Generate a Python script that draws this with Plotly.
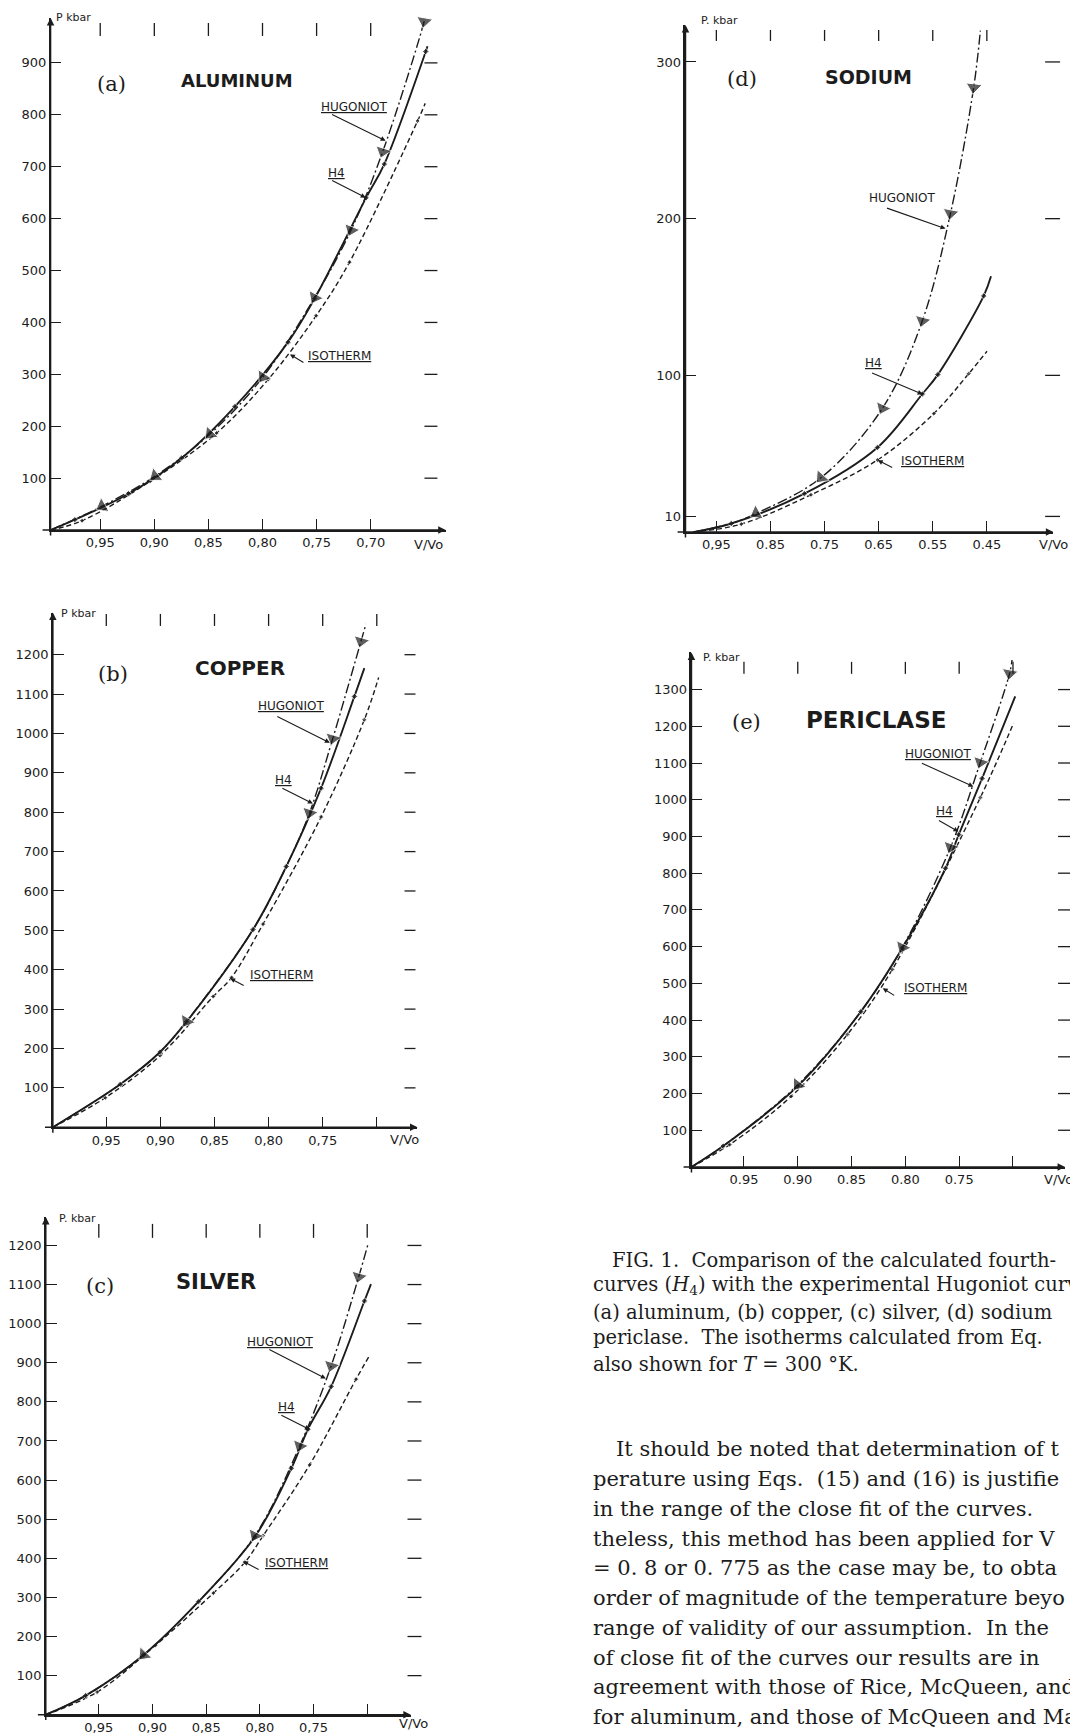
import plotly.graph_objects as go

# The page body has an 8 px margin, so the figure is drawn 8 px in from the top-left corner.
PAGE_W, PAGE_H, OFF = 1078, 1735, 8
FW, FH = PAGE_W - OFF, PAGE_H - OFF
INK = "#1c1c1c"

# ---------------- data (x = V/V0, y = P in kbar) ----------------
# (a) aluminum
AL_HUG_V = [0.9959, 0.9483, 0.8992, 0.8485, 0.7995, 0.7518, 0.7181, 0.6889, 0.6506, 0.6495]
AL_HUG_P = [0, 46, 104, 185, 295, 448, 578, 729, 980, 993]
AL_TRI_V = [0.9483, 0.8992, 0.8485, 0.7995, 0.7518, 0.7181, 0.6889, 0.6506]
AL_TRI_P = [46, 104, 185, 295, 448, 578, 729, 980]
AL_H4_V = [0.9959, 0.9735, 0.9238, 0.8747, 0.8255, 0.7764, 0.7518, 0.7043, 0.6874, 0.6491, 0.6475]
AL_H4_P = [0, 20, 70, 139, 238, 362, 446, 640, 705, 922, 932]
AL_ISO_V = [0.9959, 0.9668, 0.9038, 0.8424, 0.7948, 0.7504, 0.7196, 0.6567, 0.6496]
AL_ISO_P = [0, 18, 94, 187, 290, 413, 516, 788, 822]
AL_XTICKS = [0.95, 0.90, 0.85, 0.80, 0.75, 0.70]
AL_XLABELS = ["0,95", "0,90", "0,85", "0,80", "0,75", "0,70"]
AL_YTICKS = [100, 200, 300, 400, 500, 600, 700, 800, 900]

# (b) copper
CU_HUG_V = [0.9994, 0.9371, 0.9003, 0.8758, 0.8144, 0.7837, 0.7622, 0.7407, 0.7146, 0.7100]
CU_HUG_P = [0, 109, 191, 269, 502, 662, 798, 987, 1234, 1278]
CU_TRI_V = [0.8758, 0.7622, 0.7407, 0.7146]
CU_TRI_P = [269, 798, 987, 1234]
CU_H4_V = [0.9994, 0.9371, 0.9003, 0.8758, 0.8144, 0.7837, 0.7515, 0.7207, 0.7115]
CU_H4_P = [0, 109, 191, 268, 502, 662, 861, 1094, 1166]
CU_ISO_V = [0.9994, 0.9509, 0.9003, 0.8512, 0.8343, 0.8051, 0.7515, 0.7115, 0.6983]
CU_ISO_P = [0, 75, 182, 332, 380, 516, 788, 1035, 1142]
CU_XTICKS = [0.95, 0.90, 0.85, 0.80, 0.75, 0.70]
CU_XLABELS = ["0,95", "0,90", "0,85", "0,80", "0,75", ""]
CU_YTICKS = [100, 200, 300, 400, 500, 600, 700, 800, 900, 1000, 1100, 1200]

# (c) silver
AG_HUG_V = [0.9994, 0.9623, 0.9083, 0.8572, 0.8046, 0.7629, 0.7336, 0.7079, 0.6995]
AG_HUG_P = [0, 49, 153, 289, 458, 687, 892, 1120, 1201]
AG_TRI_V = [0.9083, 0.8046, 0.7629, 0.7336, 0.7079]
AG_TRI_P = [153, 458, 687, 892, 1120]
AG_H4_V = [0.9994, 0.9623, 0.9083, 0.8572, 0.8046, 0.7707, 0.7552, 0.7336, 0.7026, 0.6965]
AG_H4_P = [0, 49, 153, 289, 455, 630, 730, 839, 1058, 1101]
AG_ISO_V = [0.9994, 0.9516, 0.8974, 0.8433, 0.8139, 0.7969, 0.7536, 0.7104, 0.6986]
AG_ISO_P = [0, 58, 177, 311, 390, 458, 639, 858, 915]
AG_XTICKS = [0.95, 0.90, 0.85, 0.80, 0.75, 0.70]
AG_XLABELS = ["0,95", "0,90", "0,85", "0,80", "0,75", ""]
AG_YTICKS = [100, 200, 300, 400, 500, 600, 700, 800, 900, 1000, 1100, 1200]

# (d) sodium
NA_HUG_V = [0.993, 0.9224, 0.8763, 0.7566, 0.643, 0.5693, 0.5172, 0.4743, 0.462]
NA_HUG_P = [0, 5.5, 11.9, 34.7, 79, 134.8, 203.4, 283.8, 320]
NA_TRI_V = [0.8763, 0.7566, 0.643, 0.5693, 0.5172, 0.4743]
NA_TRI_P = [11.9, 34.7, 79, 134.8, 203.4, 283.8]
NA_H4_V = [0.993, 0.9224, 0.7873, 0.6522, 0.5693, 0.5406, 0.4558, 0.4423]
NA_H4_P = [0, 5.5, 24.5, 54, 88.1, 100.5, 150.7, 163.2]
NA_ISO_V = [0.993, 0.904, 0.7751, 0.6522, 0.548, 0.4835, 0.4497]
NA_ISO_P = [0, 5.1, 23.8, 46, 75.6, 101.1, 115.4]
NA_XTICKS = [0.95, 0.85, 0.75, 0.65, 0.55, 0.45]
NA_XLABELS = ["0,95", "0.85", "0.75", "0.65", "0.55", "0.45"]
NA_YTICKS = [10, 100, 200, 300]

# (e) periclase
MG_HUG_V = [0.9988, 0.9694, 0.9, 0.8414, 0.8028, 0.758, 0.7303, 0.7031, 0.7009]
MG_HUG_P = [0, 57, 223.5, 423, 598, 870.6, 1101.7, 1344, 1380.5]
MG_TRI_V = [0.9, 0.8028, 0.758, 0.7303, 0.7031]
MG_TRI_P = [223.5, 598, 870.6, 1101.7, 1344]
MG_H4_V = [0.9988, 0.9694, 0.9, 0.8414, 0.8028, 0.7627, 0.7504, 0.7287, 0.6979]
MG_H4_P = [0, 57, 220, 423, 596, 813.5, 905, 1058, 1281.7]
MG_ISO_V = [0.9988, 0.9633, 0.9062, 0.8538, 0.8121, 0.7303, 0.6994]
MG_ISO_P = [0, 61, 192, 361, 538, 1006, 1209]
MG_XTICKS = [0.95, 0.90, 0.85, 0.80, 0.75, 0.70]
MG_XLABELS = ["0.95", "0.90", "0.85", "0.80", "0.75", ""]
MG_YTICKS = [100, 200, 300, 400, 500, 600, 700, 800, 900, 1000, 1100, 1200, 1300]

CAPTION = [
    "FIG. 1.  Comparison of the calculated fourth-",
    "curves (<i>H</i><sub>4</sub>) with the experimental Hugoniot curv",
    "(a) aluminum, (b) copper, (c) silver, (d) sodium",
    "periclase.  The isotherms calculated from Eq.",
    "also shown for <i>T</i> = 300 °K.",
]
PARAGRAPH = [
    "It should be noted that determination of t",
    "perature using Eqs.  (15) and (16) is justifie",
    "in the range of the close fit of the curves.",
    "theless, this method has been applied for V",
    "= 0. 8 or 0. 775 as the case may be, to obta",
    "order of magnitude of the temperature beyo",
    "range of validity of our assumption.  In the",
    "of close fit of the curves our results are in",
    "agreement with those of Rice, McQueen, and",
    "for aluminum, and those of McQueen and Ma",
]

# ---------------- panel geometry (pixels in the 1078x1735 page) ----------------
panels = [
    dict(tag="(a)", name="ALUMINUM", nsize=18, x0=46.7, x1=443.3, y0=531.0, y1=17.9,
         vl=0.9959, vr=0.6307, pt=986.7,
         hug=(AL_HUG_V, AL_HUG_P), tri=(AL_TRI_V, AL_TRI_P), h4=(AL_H4_V, AL_H4_P),
         iso=(AL_ISO_V, AL_ISO_P), xt=(AL_XTICKS, AL_XLABELS), yt=AL_YTICKS,
         tag_xy=(108, 84), name_xy=(234, 81), pk=("P kbar", 50, 18), vv=(426, 545),
         topd=(23, 36), rightd=(422, 435),
         lab=[("<u>HUGONIOT</u>", 352, 107, (328, 114), (383, 141)),
              ("<u>H4</u>", 334, 173, (328, 180), (363, 198)),
              ("<u>ISOTHERM</u>", 337, 357, (302, 364), (287, 355))]),
    dict(tag="(b)", name="COPPER", nsize=20, x0=49.0, x1=415.0, y0=1129.2, y1=613.6,
         vl=0.9994, vr=0.6624, pt=1307,
         hug=(CU_HUG_V, CU_HUG_P), tri=(CU_TRI_V, CU_TRI_P), h4=(CU_H4_V, CU_H4_P),
         iso=(CU_ISO_V, CU_ISO_P), xt=(CU_XTICKS, CU_XLABELS), yt=CU_YTICKS,
         tag_xy=(109, 675), name_xy=(237, 669), pk=("P kbar", 55, 615), vv=(402, 1141),
         topd=(615, 627), rightd=(402, 413),
         lab=[("<u>HUGONIOT</u>", 289, 707, (273, 717), (327, 744)),
              ("<u>H4</u>", 281, 781, (278, 789), (310, 805)),
              ("<u>ISOTHERM</u>", 279, 977, (242, 988), (227, 980))]),
    dict(tag="(c)", name="SILVER", nsize=21, x0=41.9, x1=408.3, y0=1717.7, y1=1219.0,
         vl=0.9994, vr=0.6594, pt=1273,
         hug=(AG_HUG_V, AG_HUG_P), tri=(AG_TRI_V, AG_TRI_P), h4=(AG_H4_V, AG_H4_P),
         iso=(AG_ISO_V, AG_ISO_P), xt=(AG_XTICKS, AG_XLABELS), yt=AG_YTICKS,
         tag_xy=(96, 1288), name_xy=(213, 1284), pk=("P. kbar", 53, 1221), vv=(411, 1726),
         topd=(1226, 1240), rightd=(405, 419),
         lab=[("<u>HUGONIOT</u>", 278, 1344, (265, 1351), (323, 1381)),
              ("<u>H4</u>", 284, 1409, (277, 1417), (307, 1432)),
              ("<u>ISOTHERM</u>", 294, 1566, (257, 1573), (240, 1564))]),
    dict(tag="(d)", name="SODIUM", nsize=19, x0=684.0, x1=1053.3, y0=533.0, y1=25.0,
         vl=1.0071, vr=0.327, pt=323.6,
         hug=(NA_HUG_V, NA_HUG_P), tri=(NA_TRI_V, NA_TRI_P), h4=(NA_H4_V, NA_H4_P),
         iso=(NA_ISO_V, NA_ISO_P), xt=(NA_XTICKS, NA_XLABELS), yt=NA_YTICKS,
         tag_xy=(741, 79), name_xy=(868, 77), pk=("P. kbar", 698, 21), vv=(1053, 545),
         topd=(30, 41), rightd=(1045, 1060),
         lab=[("HUGONIOT", 902, 198, (885, 208), (945, 229)),
              ("<u>H4</u>", 873, 364, (870, 373), (922, 395)),
              ("<u>ISOTHERM</u>", 932, 462, (893, 469), (877, 461))]),
    dict(tag="(e)", name="PERICLASE", nsize=23, x0=690.0, x1=1065.0, y0=1169.0, y1=653.6,
         vl=0.9988, vr=0.6516, pt=1401,
         hug=(MG_HUG_V, MG_HUG_P), tri=(MG_TRI_V, MG_TRI_P), h4=(MG_H4_V, MG_H4_P),
         iso=(MG_ISO_V, MG_ISO_P), xt=(MG_XTICKS, MG_XLABELS), yt=MG_YTICKS,
         tag_xy=(745, 723), name_xy=(875, 721), pk=("P. kbar", 700, 659), vv=(1058, 1182),
         topd=(663, 675), rightd=(1058, 1073),
         lab=[("<u>HUGONIOT</u>", 938, 755, (920, 764), (973, 788)),
              ("<u>H4</u>", 944, 812, (937, 821), (958, 833)),
              ("<u>ISOTHERM</u>", 935, 990, (895, 998), (882, 990))]),
]


def px(x, y):
    """page pixel -> paper coordinates"""
    return (x - OFF) / FW, 1 - (y - OFF) / FH


fig = go.Figure()
annotations = []
shapes = []
SANS = "DejaVu Sans"
SERIF = "DejaVu Serif"

for i, pn in enumerate(panels, start=1):
    xa = "x" if i == 1 else f"x{i}"
    ya = "y" if i == 1 else f"y{i}"
    xkey = "xaxis" if i == 1 else f"xaxis{i}"
    ykey = "yaxis" if i == 1 else f"yaxis{i}"
    x0, x1, y0, y1 = pn["x0"], pn["x1"], pn["y0"], pn["y1"]

    common = dict(showgrid=False, zeroline=False, showline=True, linecolor=INK, linewidth=1.5,
                  ticks="inside", tickcolor=INK, tickwidth=1.3, fixedrange=True,
                  tickfont=dict(family=SANS, size=13, color=INK))
    fig.update_layout({
        xkey: dict(domain=[(x0 - OFF) / FW, (x1 - OFF) / FW], range=[pn["vl"], pn["vr"]], anchor=ya,
                   tickmode="array", tickvals=pn["xt"][0], ticktext=pn["xt"][1], ticklen=11, **common),
        ykey: dict(domain=[1 - (y0 - OFF) / FH, 1 - (y1 - OFF) / FH], range=[0, pn["pt"]], anchor=xa,
                   tickmode="array", tickvals=pn["yt"], ticktext=[str(v) for v in pn["yt"]],
                   ticklen=11, **common),
    })

    iv, ip = pn["iso"]
    fig.add_trace(go.Scatter(x=iv, y=ip, xaxis=xa, yaxis=ya, mode="lines+markers", cliponaxis=False,
                             line=dict(color=INK, width=1.4, dash="5px,3px", shape="spline"),
                             marker=dict(symbol="diamond", color=INK,
                                         size=[0] + [4] * (len(iv) - 2) + [0]),
                             showlegend=False, hoverinfo="skip"))
    hv, hp = pn["h4"]
    fig.add_trace(go.Scatter(x=hv, y=hp, xaxis=xa, yaxis=ya, mode="lines+markers", cliponaxis=False,
                             line=dict(color=INK, width=1.9, shape="spline"),
                             marker=dict(symbol="diamond", color=INK,
                                         size=[0] + [5] * (len(hv) - 2) + [0]),
                             showlegend=False, hoverinfo="skip"))
    gv, gp = pn["hug"]
    fig.add_trace(go.Scatter(x=gv, y=gp, xaxis=xa, yaxis=ya, mode="lines", cliponaxis=False,
                             line=dict(color=INK, width=1.4, dash="10px,3px,2px,3px", shape="spline"),
                             showlegend=False, hoverinfo="skip"))
    tv, tp = pn["tri"]
    fig.add_trace(go.Scatter(x=[gv[-1]] + tv[::-1], y=[gp[-1]] + tp[::-1], xaxis=xa, yaxis=ya,
                             mode="markers", cliponaxis=False,
                             marker=dict(symbol="triangle-up", color=INK, angleref="previous",
                                         size=[0] + [14] * len(tv)),
                             showlegend=False, hoverinfo="skip"))

    # axis arrows
    hx, hy = px(x1, y0)
    annotations.append(dict(x=hx, y=hy, xref="paper", yref="paper", ax=-(x1 - x0 + 8), ay=0,
                            text="", showarrow=True, arrowhead=2, arrowsize=1, arrowwidth=1.5,
                            arrowcolor=INK))
    hx, hy = px(x0, y1)
    annotations.append(dict(x=hx, y=hy, xref="paper", yref="paper", ax=0, ay=(y0 - y1 + 6),
                            text="", showarrow=True, arrowhead=2, arrowsize=1, arrowwidth=1.5,
                            arrowcolor=INK))

    # decorative registration dashes
    def vx(v, pn=pn):
        return pn["x0"] + (pn["vl"] - v) / (pn["vl"] - pn["vr"]) * (pn["x1"] - pn["x0"])

    def py(p, pn=pn):
        return pn["y0"] - p / pn["pt"] * (pn["y0"] - pn["y1"])

    for v in pn["xt"][0]:
        a = px(vx(v), pn["topd"][0])
        b = px(vx(v), pn["topd"][1])
        shapes.append(dict(type="line", xref="paper", yref="paper", x0=a[0], y0=a[1], x1=b[0], y1=b[1],
                           line=dict(color=INK, width=1.3)))
    for p in pn["yt"]:
        a = px(pn["rightd"][0], py(p))
        b = px(pn["rightd"][1], py(p))
        shapes.append(dict(type="line", xref="paper", yref="paper", x0=a[0], y0=a[1], x1=b[0], y1=b[1],
                           line=dict(color=INK, width=1.3)))

    # texts
    tx, ty = px(*pn["tag_xy"])
    annotations.append(dict(x=tx, y=ty, xref="paper", yref="paper", text=pn["tag"], showarrow=False,
                            xanchor="center", yanchor="middle", font=dict(family=SERIF, size=21, color=INK)))
    tx, ty = px(*pn["name_xy"])
    annotations.append(dict(x=tx, y=ty, xref="paper", yref="paper", text="<b>" + pn["name"] + "</b>",
                            showarrow=False, xanchor="center", yanchor="middle",
                            font=dict(family=SANS, size=pn["nsize"], color=INK)))
    lbl, lx, ly = pn["pk"]
    tx, ty = px(lx, ly)
    annotations.append(dict(x=tx, y=ty, xref="paper", yref="paper", text=lbl, showarrow=False,
                            xanchor="left", yanchor="middle", font=dict(family=SANS, size=11, color=INK)))
    tx, ty = px(*pn["vv"])
    annotations.append(dict(x=tx, y=ty, xref="paper", yref="paper", text="V/Vo", showarrow=False,
                            xanchor="center", yanchor="middle", font=dict(family=SANS, size=13, color=INK)))
    for (txt, lx, ly, tail, head) in pn["lab"]:
        tx, ty = px(lx, ly)
        annotations.append(dict(x=tx, y=ty, xref="paper", yref="paper", text=txt, showarrow=False,
                                xanchor="center", yanchor="middle",
                                font=dict(family=SANS, size=12, color=INK)))
        hx, hy = px(*head)
        annotations.append(dict(x=hx, y=hy, xref="paper", yref="paper", text="", showarrow=True,
                                ax=tail[0] - head[0], ay=tail[1] - head[1], arrowhead=2, arrowsize=0.9,
                                arrowwidth=1.1, arrowcolor=INK))

# caption and paragraph text
cap_y = [1263, 1288, 1315, 1340, 1367]
for k, line in enumerate(CAPTION):
    lx = 608 if k == 0 else 589
    tx, ty = px(lx, cap_y[k])
    annotations.append(dict(x=tx, y=ty, xref="paper", yref="paper", text=line, showarrow=False,
                            xanchor="left", yanchor="middle", font=dict(family=SERIF, size=19.5, color=INK)))
for k, line in enumerate(PARAGRAPH):
    lx = 612 if k == 0 else 589
    tx, ty = px(lx, 1452 + 29.8 * k)
    annotations.append(dict(x=tx, y=ty, xref="paper", yref="paper", text=line, showarrow=False,
                            xanchor="left", yanchor="middle", font=dict(family=SERIF, size=21, color=INK)))

fig.update_layout(width=FW, height=FH, margin=dict(l=0, r=0, t=0, b=0),
                  paper_bgcolor="white", plot_bgcolor="white",
                  annotations=annotations, shapes=shapes, showlegend=False)

fig.write_html("out.html")
